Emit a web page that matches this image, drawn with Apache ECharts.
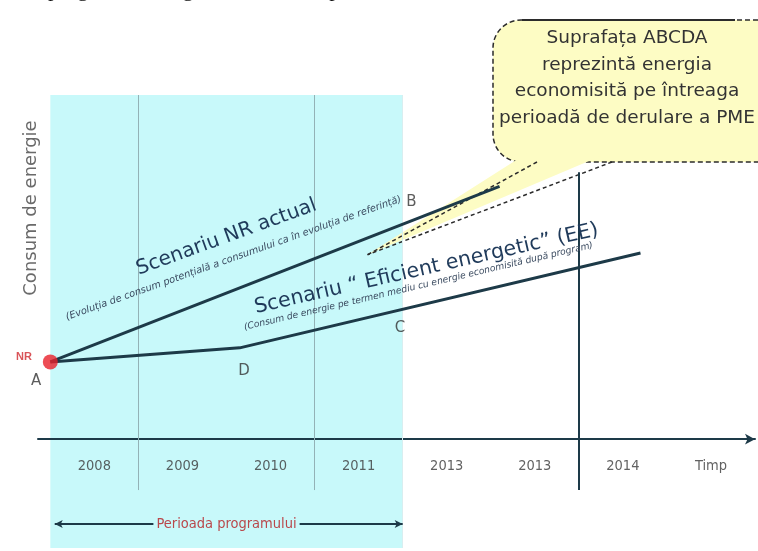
<!DOCTYPE html>
<html><head><meta charset="utf-8">
<script src="https://cdn.jsdelivr.net/npm/echarts@6/dist/echarts.min.js"></script>
<style>html,body{margin:0;padding:0;background:#fff}#c{width:758px;height:551px}</style>
</head><body><div id="c"></div>
<script>
// x = years since start of program (2008), y = energy consumption (relative units)
const yearLabels = ['2008','2009','2010','2011','2013','2013','2014','Timp'];
const nrActual = [[0,22],[5.1,72]];
const eficient = [[0,22],[2.15,26],[6.7,53]];
const pointNames = ['A','B','C','D'];
const pointCoords = [[-0.16,16.5],[4.1,67.5],[3.97,31.5],[2.2,19.5]];
const programPeriod = [0,4];
const gridYears = [1,3];
const nrTitle = 'Scenariu NR actual';
const nrSub = '(Evoluția de consum potențială a consumului ca în evoluția de referință)';
const eeTitle = 'Scenariu “ Eficient energetic” (EE)';
const eeSub = '(Consum de energie pe termen mediu cu energie economisită după program)';
const calloutLines = ['Suprafața ABCDA','reprezintă energia','economisită pe întreaga','perioadă de derulare a PME'];
const yTitle = 'Consum de energie';
const periodTitle = 'Perioada programului';
const topText = 'programul energetic al unei noi perioade';

const navy = '#1d3a48';
const cyan = '#c8f9fa';
const chart = echarts.init(document.getElementById('c'), null, {renderer:'canvas'});
const option = {
  animation:false,
  grid:{left:38,right:3,top:88,bottom:3},
  xAxis:{type:'value',min:-0.14,max:8,z:3,
    axisLine:{onZero:true,symbol:['none','arrow'],symbolSize:[8,10],lineStyle:{color:navy,width:2}},
    axisTick:{show:false},axisLabel:{show:false},splitLine:{show:false}},
  yAxis:{type:'value',min:-31,max:100,axisLine:{show:false},axisTick:{show:false},axisLabel:{show:false},splitLine:{show:false}},
  series:[
    {type:'line',data:[],z:0,silent:true,clip:false,
      markArea:{silent:true,itemStyle:{color:cyan},data:[[{coord:[programPeriod[0],-31]},{coord:[programPeriod[1],98]}]]},
      markLine:{silent:true,symbol:'none',label:{show:false},
        data:[
          ...gridYears.map(v=>[{coord:[v,-14.5],lineStyle:{color:'#93b2b6',width:1,type:'solid'}},{coord:[v,98]}]),
          [{coord:[programPeriod[1],-31],lineStyle:{color:'#d8eef0',width:1,type:'solid'}},{coord:[programPeriod[1],98]}],
          [{coord:[6,-14.5],lineStyle:{color:navy,width:2,type:'solid'}},{coord:[6,76]}],
          [{coord:[0,-7],lineStyle:{color:navy,width:2,type:'solid'}},{coord:[0,101.7],symbol:'arrow',symbolSize:[8,10]}]
        ]}},
    {type:'line',data:[],z:1,silent:true,clip:false,
      markLine:{silent:true,symbol:['arrow','arrow'],symbolSize:[6,8],
        lineStyle:{color:navy,width:2,type:'solid'},label:{show:false},
        data:[[{coord:[programPeriod[0]+0.05,-24.2]},{coord:[programPeriod[1],-24.2]}]]}},
    {name:'NR actual',type:'line',data:nrActual,symbol:'none',z:5,lineStyle:{color:navy,width:3}},
    {name:'EE',type:'line',data:eficient,symbol:'none',z:5,lineStyle:{color:navy,width:3}},
    {type:'scatter',data:[nrActual[0]],symbolSize:15,z:6,itemStyle:{color:'#e8202a'},
      label:{show:true,position:'left',formatter:'NR',color:'#d0282e',fontSize:11,fontWeight:'bold',offset:[-6,-5]}},
    {type:'scatter',clip:false,z:6,symbolSize:0,
      data:pointNames.map((n,i)=>({name:n,value:pointCoords[i]})),
      label:{show:true,position:'inside',formatter:'{b}',color:'#333',fontSize:15,fontFamily:'DejaVu Sans'}},
    {type:'scatter',clip:false,z:6,symbolSize:0,
      data:yearLabels.map((t,i)=>({name:t,value:[i+0.5,-7.7]})),
      label:{show:true,position:'inside',formatter:'{b}',color:'#3a3a3a',fontSize:14.5,fontFamily:'DejaVu Sans Condensed'}}
  ]
};
chart.setOption(option);

const px = (p)=>chart.convertToPixel({gridIndex:0},p);
const deg = Math.PI/180;
const tip = px([3.6,52.5]);
const nrT = px([2.0,57.5]);
const nrS = px([2.08,51.5]);
const eeT = px([4.27,48.5]);
const eeS = px([4.18,43.5]);
const per = px([(programPeriod[0]+programPeriod[1])/2,-24.2]);
const rotText = (pos,rot,text,font,fill)=>({type:'text',x:pos[0],y:pos[1],rotation:rot*deg,z:20,
  style:{text:text,font:font,fill:fill,align:'center',verticalAlign:'middle'}});
const graphics = [
  {type:'text',x:48,y:1,z:20,style:{text:topText,font:'22px "Liberation Serif"',fill:'#111',align:'left',verticalAlign:'bottom'}},
  {type:'text',x:31,y:208,rotation:90*deg,z:20,style:{text:yTitle,font:'18px "DejaVu Sans"',fill:'#6a6a6a',align:'center',verticalAlign:'middle'}},
  rotText(nrT,20,nrTitle,'20px "DejaVu Sans"','#1f3a5a'),
  rotText(nrS,19.5,nrSub,'italic 9.8px "DejaVu Sans"','#3b4b60'),
  rotText(eeT,12.8,eeTitle,'20.5px "DejaVu Sans"','#1f3a5a'),
  rotText(eeS,13.3,eeSub,'italic 9.2px "DejaVu Sans"','#3b4b60'),
  {type:'text',x:per[0],y:per[1],z:20,style:{text:periodTitle,font:'14.5px "DejaVu Sans Condensed"',fill:'#b9484b',
    align:'center',verticalAlign:'middle',backgroundColor:cyan,padding:[1,3]}},
  {type:'polygon',z:2,shape:{points:[[532,150],[615,150],tip]},style:{fill:'#fdfcc4',stroke:null}},
  {type:'polyline',z:3,shape:{points:[[537,162],tip]},style:{stroke:'#2b2b2b',lineWidth:1.5,lineDash:[4,3],fill:null}},
  {type:'polyline',z:3,shape:{points:[[612,162],tip]},style:{stroke:'#2b2b2b',lineWidth:1.5,lineDash:[4,3],fill:null}},
  {type:'rect',z:1,shape:{x:493,y:20,width:300,height:142,r:28},style:{fill:'#fdfcc4',stroke:'#2b2b2b',lineWidth:1.5,lineDash:[5,3]}},
  {type:'line',z:3,shape:{x1:522,y1:20,x2:735,y2:20},style:{stroke:'#2b2b2b',lineWidth:2}}
];
calloutLines.forEach((t,i)=>graphics.push({type:'text',z:20,x:627,y:38+i*26.7,
  style:{text:t,font:'18.5px "DejaVu Sans"',fill:'#333',align:'center',verticalAlign:'middle'}}));
chart.setOption({graphic:graphics});
</script></body></html>
